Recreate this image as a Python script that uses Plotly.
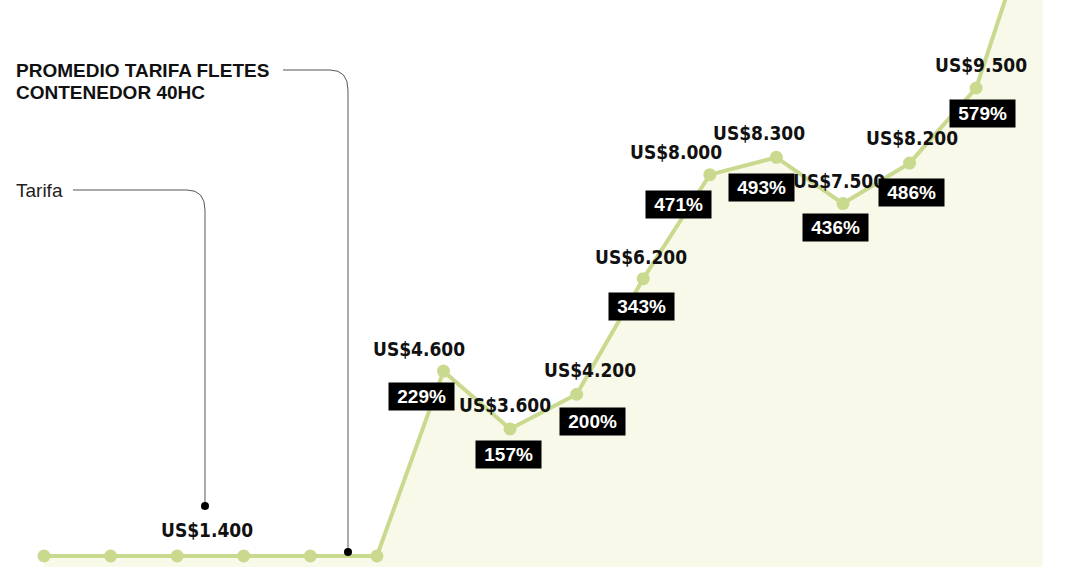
import plotly.graph_objects as go

# datos: tarifa promedio flete contenedor 40HC (US$)
periodos = list(range(16))
tarifa = [1400, 1400, 1400, 1400, 1400, 1400, 4600, 3600, 4200,
          6200, 8000, 8300, 7500, 8200, 9500, 13000]
etiquetas_valor = ["US$4.600", "US$3.600", "US$4.200", "US$6.200", "US$8.000",
                   "US$8.300", "US$7.500", "US$8.200", "US$9.500"]
variacion = [229, 157, 200, 343, 471, 493, 436, 486, 579]

W, H = 1080, 567
verde = "#c9d98e"
relleno = "#f8f9e8"
fuente_cond = "DejaVu Sans Condensed, Arial Narrow, sans-serif"
fuente = "Liberation Sans, Arial, sans-serif"

fig = go.Figure()
fig.add_trace(go.Scatter(
    x=periodos, y=tarifa, mode="lines+markers",
    line=dict(color=verde, width=4),
    marker=dict(color=verde, size=13),
    fill="tozeroy", fillcolor=relleno,
    hoverinfo="skip", cliponaxis=False,
))

# desplazamientos (px) de las etiquetas respecto a cada punto
dx_valor = [-24, -5, 13, -2, -34, -17, -4, 2, 5]
dy_valor = [22, 24, 24, 22, 23, 24, 23, 25, 23]
dx_pct = [-22, -2, 16, -2, -31, -15, -7, 2, 6]
dy_pct = [-25, -26, -27, -28, -30, -30, -24, -29, -25]

anot = []
for i, (txt, pct) in enumerate(zip(etiquetas_valor, variacion)):
    k = i + 6
    anot.append(dict(x=periodos[k], y=tarifa[k], text="<b>%s</b>" % txt,
                     showarrow=False, xshift=dx_valor[i], yshift=dy_valor[i],
                     font=dict(family=fuente_cond, size=19, color="#111")))
    anot.append(dict(x=periodos[k], y=tarifa[k], text="<b>&nbsp;%d%%&nbsp;</b>" % pct,
                     showarrow=False, xshift=dx_pct[i], yshift=dy_pct[i],
                     bgcolor="#000", borderpad=3,
                     font=dict(family=fuente, size=19, color="#fff")))

anot.append(dict(x=periodos[2], y=tarifa[2], text="<b>US$1.400</b>",
                 showarrow=False, xshift=30, yshift=26,
                 font=dict(family=fuente_cond, size=19, color="#111")))

# textos de la izquierda
for linea, yc in [("PROMEDIO TARIFA FLETES", 70), ("CONTENEDOR 40HC", 92)]:
    anot.append(dict(x=14 / W, y=1 - yc / H, xref="paper", yref="paper",
                     xanchor="left", yanchor="middle", showarrow=False,
                     text="<b>%s</b>" % linea,
                     font=dict(family=fuente, size=19, color="#111")))
anot.append(dict(x=14 / W, y=1 - 190 / H, xref="paper", yref="paper",
                 xanchor="left", yanchor="middle", showarrow=False,
                 text="Tarifa", font=dict(family=fuente, size=19, color="#222")))


def px(x, y):
    return "%.5f %.5f" % (x / W, 1 - y / H)


formas = [
    dict(type="path", xref="paper", yref="paper",
         path="M %s L %s Q %s %s L %s" % (px(283, 70), px(330, 70), px(348, 70),
                                          px(348, 90), px(348, 552)),
         line=dict(color="#555", width=1)),
    dict(type="path", xref="paper", yref="paper",
         path="M %s L %s Q %s %s L %s" % (px(73, 190), px(187, 190), px(205, 190),
                                          px(205, 210), px(205, 506)),
         line=dict(color="#555", width=1)),
]
for cx, cy in [(348, 552), (205, 506)]:
    formas.append(dict(type="circle", xref="paper", yref="paper",
                       x0=(cx - 4) / W, x1=(cx + 4) / W,
                       y0=1 - (cy + 4) / H, y1=1 - (cy - 4) / H,
                       fillcolor="#000", line=dict(width=0)))

fig.update_layout(
    width=W, height=H, margin=dict(l=0, r=0, t=0, b=0),
    paper_bgcolor="white", plot_bgcolor="white",
    showlegend=False,
    xaxis=dict(range=[-0.661, 15.56], visible=False, fixedrange=True),
    yaxis=dict(range=[1210, 11023], visible=False, fixedrange=True),
    annotations=anot, shapes=formas,
)

fig.write_html("out.html", config={"displayModeBar": False},
               post_script="document.body.style.margin='0';")
